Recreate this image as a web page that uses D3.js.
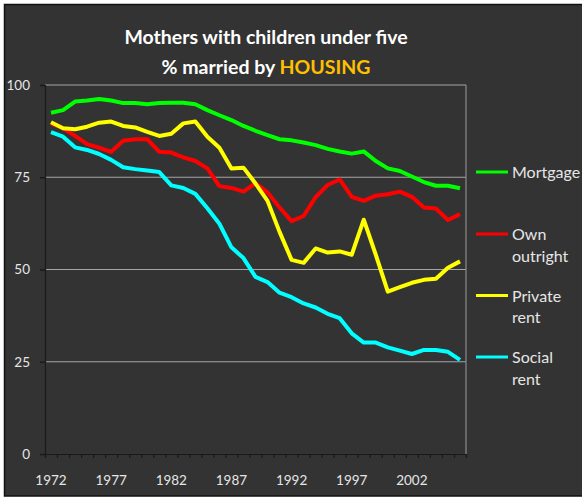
<!DOCTYPE html>
<html><head><meta charset="utf-8">
<script src="https://cdn.jsdelivr.net/npm/d3@7"></script>
<style>html,body{margin:0;padding:0;background:#fff;}svg{display:block;}</style>
</head><body>
<script>
const years = d3.range(1972, 2007);
const yTicks = [0, 25, 50, 75, 100];
const xLabels = [1972, 1977, 1982, 1987, 1992, 1997, 2002];
const mortgage = [92.5,93.2,95.5,95.8,96.2,95.8,95.1,95.1,94.8,95.1,95.2,95.2,94.8,93.2,91.8,90.5,88.9,87.6,86.4,85.3,85.0,84.4,83.7,82.7,82.0,81.4,82.0,79.4,77.4,76.7,75.2,73.7,72.7,72.7,72.0];
const ownOutright = [89.6,88.3,86.2,84.0,83.0,81.9,84.9,85.3,85.3,81.9,81.7,80.4,79.4,77.4,72.6,72.1,71.1,73.4,70.9,66.8,63.1,64.5,69.6,72.9,74.4,69.7,68.6,70.0,70.4,71.1,69.7,66.8,66.5,63.4,65.0];
const privateRent = [89.9,88.3,88.0,88.7,89.8,90.1,88.9,88.5,87.3,86.2,86.8,89.6,90.1,86.0,83.0,77.4,77.6,73.3,68.6,60.2,52.6,51.8,55.7,54.6,54.9,54.0,63.5,54.0,44.0,45.2,46.4,47.2,47.5,50.5,52.2];
const socialRent = [87.2,86.0,83.1,82.4,81.3,79.7,77.7,77.2,76.8,76.4,72.8,72.1,70.5,66.6,62.4,56.0,53.1,48.0,46.6,43.7,42.5,40.8,39.7,38.0,36.8,32.7,30.2,30.2,28.9,28.0,27.1,28.2,28.2,27.7,25.5];
const seriesNames = ["Mortgage", "Own\noutright", "Private\nrent", "Social\nrent"];
const seriesColors = ["#00ff00", "#ff0000", "#ffff00", "#00ffff"];
const seriesValues = [mortgage, ownOutright, privateRent, socialRent];

const W = 582, H = 497;
const svg = d3.select("body").append("svg").attr("width", W).attr("height", H);
const font = "Lato, 'Open Sans', sans-serif";

svg.append("rect").attr("x", 4.5).attr("y", 4.5).attr("width", W).attr("height", 491.5)
  .attr("fill", "#333333").attr("stroke", "#111").attr("stroke-width", 1.5);

const pLeft = 45, pRight = 466, pTop = 85, pBottom = 454;
const x = d3.scaleLinear().domain([-0.5, years.length - 0.5]).range([pLeft, pRight]);
const y = d3.scaleLinear().domain([0, 100]).range([pBottom, pTop]);

// gridlines
svg.append("g").selectAll("line").data(yTicks.filter(d => d > 0)).join("line")
  .attr("x1", pLeft).attr("x2", pRight).attr("y1", d => y(d)).attr("y2", d => y(d))
  .attr("stroke", "#a6a6a6").attr("stroke-width", 1.2);
// right border
svg.append("line").attr("x1", pRight).attr("x2", pRight).attr("y1", pTop).attr("y2", pBottom)
  .attr("stroke", "#8c8c8c").attr("stroke-width", 1.2);

// y axis
const yAxis = d3.axisLeft(y).tickValues(yTicks).tickSize(5).tickPadding(10);
const gy = svg.append("g").attr("transform", `translate(${pLeft},0)`).call(yAxis);
gy.select(".domain").attr("stroke", "#1a1a1a").attr("stroke-width", 1.2);
gy.selectAll(".tick line").attr("stroke", "#1a1a1a").attr("stroke-width", 1.5);
gy.selectAll("text").attr("fill", "#e6e6e6").attr("font-family", font).attr("font-size", 13.5);

// x axis
const xAxis = d3.axisBottom(x).tickValues(d3.range(-0.5, years.length, 1)).tickSize(4).tickFormat("");
const gx = svg.append("g").attr("transform", `translate(0,${pBottom})`).call(xAxis);
gx.select(".domain").attr("stroke", "#1a1a1a").attr("stroke-width", 1.2);
gx.selectAll(".tick line").attr("stroke", "#1a1a1a").attr("stroke-width", 1.2);
svg.append("g").selectAll("text").data(xLabels).join("text")
  .attr("x", d => x(years.indexOf(d))).attr("y", 485)
  .attr("text-anchor", "middle").attr("fill", "#e6e6e6")
  .attr("font-family", font).attr("font-size", 13.5).text(d => d);

// lines
const line = d3.line().x((d, i) => x(i)).y(d => y(d));
svg.append("g").selectAll("path").data(seriesValues).join("path")
  .attr("d", d => line(d)).attr("fill", "none")
  .attr("stroke", (d, i) => seriesColors[i]).attr("stroke-width", 4)
  .attr("stroke-linejoin", "round");

// legend
const legendY = [172, 234, 295.5, 357];
const lg = svg.append("g");
seriesNames.forEach((name, i) => {
  lg.append("line").attr("x1", 476).attr("x2", 508).attr("y1", legendY[i]).attr("y2", legendY[i])
    .attr("stroke", seriesColors[i]).attr("stroke-width", 3);
  const t = lg.append("text").attr("x", 512).attr("y", legendY[i] + 6)
    .attr("fill", "#e6e6e6").attr("font-family", font).attr("font-size", 16);
  name.split("\n").forEach((s, k) => {
    t.append("tspan").attr("x", 512).attr("dy", k === 0 ? 0 : 21.5).text(s);
  });
});

// title
const title = svg.append("g").attr("font-family", font).attr("font-weight", "bold")
  .attr("font-size", 19.5).attr("text-anchor", "middle").attr("fill", "#ffffff");
title.append("text").attr("x", 266).attr("y", 44).text("Mothers with children under five");
const t2 = title.append("text").attr("x", 266).attr("y", 74);
t2.append("tspan").text("% married by ");
t2.append("tspan").attr("fill", "#ffc000").text("HOUSING");
</script>
</body></html>
